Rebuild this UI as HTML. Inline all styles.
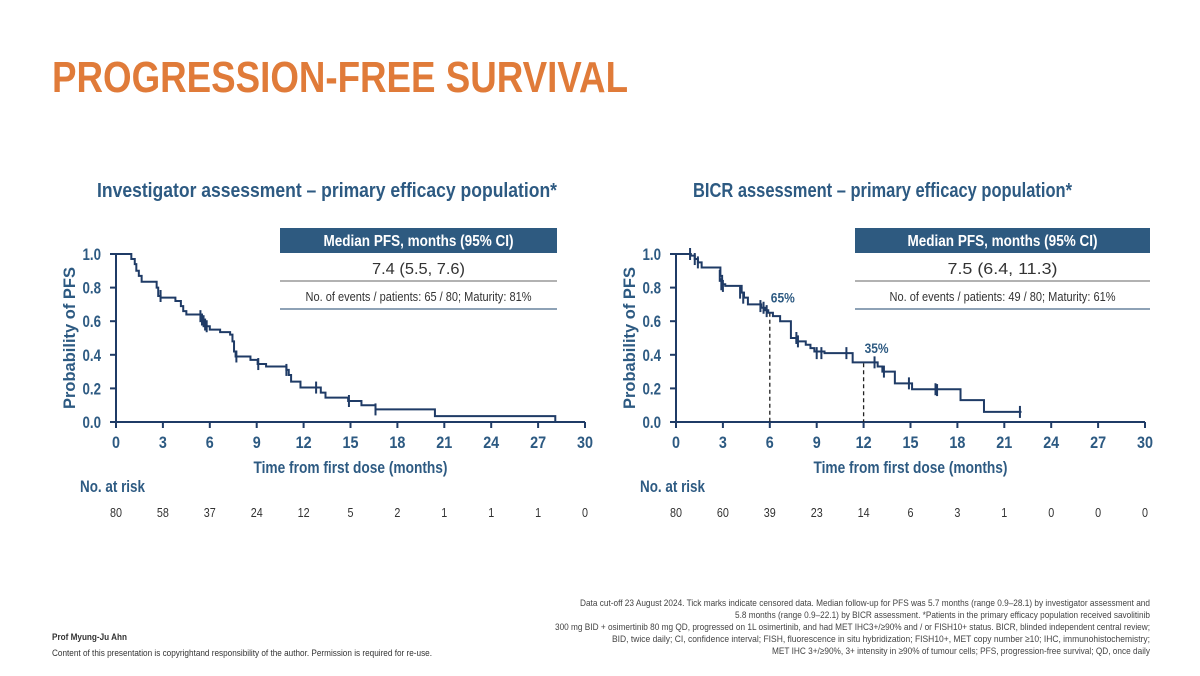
<!DOCTYPE html>
<html><head><meta charset="utf-8"><style>
html,body{margin:0;padding:0;background:#fff;}
svg{display:block;font-family:"Liberation Sans Narrow","Liberation Sans",sans-serif;}
</style></head><body>
<svg id="s" width="1200" height="676" viewBox="0 0 1200 676">
<text x="52" y="92" font-size="44" font-weight="bold" fill="#e07b39" textLength="576" lengthAdjust="spacingAndGlyphs">PROGRESSION-FREE SURVIVAL</text>
<text x="97" y="197" font-size="20" font-weight="bold" fill="#2d5a82" textLength="460" lengthAdjust="spacingAndGlyphs">Investigator assessment – primary efficacy population*</text>
<text x="693" y="197" font-size="20" font-weight="bold" fill="#2d5a82" textLength="379" lengthAdjust="spacingAndGlyphs">BICR assessment – primary efficacy population*</text>
<g id="left"></g>
<g id="right"></g>
<g font-size="9.5" fill="#444" text-anchor="end">
<text x="1150" y="606" textLength="570" lengthAdjust="spacingAndGlyphs">Data cut-off 23 August 2024. Tick marks indicate censored data. Median follow-up for PFS was 5.7 months (range 0.9–28.1) by investigator assessment and</text>
<text x="1150" y="618" textLength="415" lengthAdjust="spacingAndGlyphs">5.8 months (range 0.9–22.1) by BICR assessment. *Patients in the primary efficacy population received savolitinib</text>
<text x="1150" y="630" textLength="595" lengthAdjust="spacingAndGlyphs">300 mg BID + osimertinib 80 mg QD, progressed on 1L osimertinib, and had MET IHC3+/≥90% and / or FISH10+ status. BICR, blinded independent central review;</text>
<text x="1150" y="642" textLength="538" lengthAdjust="spacingAndGlyphs">BID, twice daily; CI, confidence interval; FISH, fluorescence in situ hybridization; FISH10+, MET copy number ≥10; IHC, immunohistochemistry;</text>
<text x="1150" y="654" textLength="378" lengthAdjust="spacingAndGlyphs">MET IHC 3+/≥90%, 3+ intensity in ≥90% of tumour cells; PFS, progression-free survival; QD, once daily</text>
</g>
<text x="52" y="640" font-size="9" font-weight="bold" fill="#333" textLength="75" lengthAdjust="spacingAndGlyphs">Prof Myung-Ju Ahn</text>
<text x="52" y="656" font-size="9" fill="#333" textLength="380" lengthAdjust="spacingAndGlyphs">Content of this presentation is copyrightand responsibility of the author. Permission is required for re-use.</text>
</svg>
<script>
const xTicks=[0,3,6,9,12,15,18,21,24,27,30];
const yTicks=["0.0","0.2","0.4","0.6","0.8","1.0"];
const leftTimes=[0,0.98,1.2,1.3,1.46,1.64,2.6,2.7,2.85,3.8,4.15,4.3,4.5,4.6,5.45,5.55,5.65,5.75,6.0,6.66,7.3,7.45,7.55,7.65,8.6,9.06,9.6,10.9,11.05,11.2,11.8,13.1,13.4,14.85,15.7,16.6,20.4,28.1];
const leftSurv=[1.0,0.97,0.94,0.9,0.87,0.835,0.8,0.75,0.74,0.72,0.69,0.66,0.64,0.64,0.62,0.6,0.58,0.57,0.55,0.535,0.52,0.48,0.42,0.39,0.37,0.345,0.33,0.31,0.28,0.24,0.205,0.175,0.145,0.125,0.1,0.075,0.035,0.0];
const leftCensT=[2.85,5.4,5.5,5.6,5.7,5.8,7.7,9.1,10.9,12.8,14.9,16.6];
const leftCensS=[0.75,0.63,0.61,0.6,0.58,0.57,0.39,0.345,0.31,0.205,0.125,0.075];
const leftRisk=[80,58,37,24,12,5,2,1,1,1,0];
const leftMedian="7.4 (5.5, 7.6)";
const leftEvents="No. of events / patients: 65 / 80; Maturity: 81%";
const rightTimes=[0,0.95,1.2,1.4,1.64,2.84,2.95,3.15,4.2,4.35,4.6,5.45,5.7,5.9,6.2,6.66,7.35,7.7,8.3,8.6,8.85,9.5,11.3,12.9,13.2,14.0,15.1,18.2,19.7];
const rightSurv=[1.0,0.99,0.97,0.95,0.92,0.87,0.82,0.81,0.77,0.74,0.7,0.68,0.665,0.65,0.63,0.6,0.5,0.48,0.46,0.44,0.42,0.41,0.355,0.33,0.3,0.23,0.195,0.13,0.06];
const rightEnd=22.1;
const rightCensT=[0.9,1.2,1.4,2.8,2.9,3.0,4.1,4.3,5.4,5.6,5.8,7.7,7.8,9.0,9.3,10.9,12.7,13.3,14.9,16.6,16.7,22.0];
const rightCensS=[1.0,0.97,0.95,0.87,0.82,0.81,0.77,0.74,0.69,0.68,0.66,0.5,0.48,0.41,0.41,0.41,0.355,0.3,0.23,0.195,0.19,0.06];
const rightRisk=[80,60,39,23,14,6,3,1,0,0,0];
const rightMedian="7.5 (6.4, 11.3)";
const rightEvents="No. of events / patients: 49 / 80; Maturity: 61%";
const landmarkT=[6,12];
const landmarkS=[0.65,0.35];
const landmarkLbl=["65%","35%"];

const NS="http://www.w3.org/2000/svg";
const BLUE="#2d5a82", LINE="#1f3b66";
function mk(p,tag,at,txt){const e=document.createElementNS(NS,tag);for(const k in at)e.setAttribute(k,at[k]);if(txt!==undefined)e.textContent=txt;p.appendChild(e);return e;}
function tl(s,d,p){let w=0;for(const c of s)w+=(c==='.')?p:d;return w;}

function chart(g,x0,tbl,times,surv,endT,cT,cS,risk,med,ev,lm){
  const W=469/30, y0=422, yTop=254;
  const X=t=>x0+t*W, Y=s=>y0-s*(y0-yTop);
  const cx=(tbl[0]+tbl[1])/2;
  let e=mk(g,'rect',{x:tbl[0],y:228,width:tbl[1]-tbl[0],height:25,fill:"#2e5a80"});
  
  
  e=mk(g,'text',{x:cx,y:246,'text-anchor':'middle','font-size':15.5,'font-weight':'bold',fill:'#fff',textLength:190,lengthAdjust:'spacingAndGlyphs'},"Median PFS, months (95% CI)");
  
  
  e=mk(g,'text',{x:cx,y:274,'text-anchor':'middle','font-size':15.5,fill:'#333',textLength:med.length>14?110:93,lengthAdjust:'spacingAndGlyphs'},med);
  
  
  mk(g,'line',{x1:tbl[0],x2:tbl[1],y1:281,y2:281,stroke:'#999','stroke-width':1.5});
  e=mk(g,'text',{x:cx,y:301,'text-anchor':'middle','font-size':12.5,fill:'#333',textLength:226,lengthAdjust:'spacingAndGlyphs'},ev);
  
  
  mk(g,'line',{x1:tbl[0],x2:tbl[1],y1:309,y2:309,stroke:'#4a6a8a','stroke-width':1.2});
  e=mk(g,'path',{d:`M${x0},${yTop}V${y0}H${X(30)}`,fill:'none',stroke:LINE,'stroke-width':2});
  
  
  yTicks.forEach((l,i)=>{const y=Y(+l);mk(g,'line',{x1:x0-6,x2:x0,y1:y,y2:y,stroke:LINE,'stroke-width':2});
    const t=mk(g,'text',{x:x0-15,y:y+6,'text-anchor':'end','font-size':16.5,'font-weight':'bold',fill:BLUE,textLength:tl(l,7.5,3.5),lengthAdjust:'spacingAndGlyphs'},l);
    
    });
  xTicks.forEach((v,i)=>{const x=X(v);mk(g,'line',{x1:x,x2:x,y1:y0,y2:y0+6,stroke:LINE,'stroke-width':2});
    const s=String(v);
    const t=mk(g,'text',{x:x,y:448,'text-anchor':'middle','font-size':16.5,'font-weight':'bold',fill:BLUE,textLength:tl(s,8,3),lengthAdjust:'spacingAndGlyphs'},s);
    
    
    const rs=String(risk[i]);
    const r=mk(g,'text',{x:x,y:517,'text-anchor':'middle','font-size':12.5,fill:'#333',textLength:tl(rs,6,3),lengthAdjust:'spacingAndGlyphs'},rs);
    
    });
  e=mk(g,'text',{x:X(15),y:473,'text-anchor':'middle','font-size':17,'font-weight':'bold',fill:BLUE,textLength:194,lengthAdjust:'spacingAndGlyphs'},"Time from first dose (months)");
  
  
  e=mk(g,'text',{x:0,y:0,'text-anchor':'middle','font-size':17,'font-weight':'bold',fill:BLUE,textLength:142,lengthAdjust:'spacingAndGlyphs',transform:`translate(${x0-41},${(y0+yTop)/2}) rotate(-90)`},"Probability of PFS");
  
  
  e=mk(g,'text',{x:x0-36,y:492,'font-size':17,'font-weight':'bold',fill:BLUE,textLength:65,lengthAdjust:'spacingAndGlyphs'},"No. at risk");
  
  
  if(lm){lm[0].forEach((t,i)=>{mk(g,'line',{x1:X(t),x2:X(t),y1:Y(lm[1][i]),y2:y0,stroke:'#222','stroke-width':1.3,'stroke-dasharray':'4,3'});
    const l=mk(g,'text',{x:X(t)+1,y:Y(lm[1][i]+0.06),'font-size':14,'font-weight':'bold',fill:BLUE,textLength:24,lengthAdjust:'spacingAndGlyphs'},lm[2][i]);
    
    });}
  let d=`M${X(times[0])},${Y(surv[0])}`;
  for(let i=1;i<times.length;i++){d+=`H${X(times[i])}V${Y(surv[i])}`;}
  d+=`H${X(endT)}`;
  e=mk(g,'path',{d:d,fill:'none',stroke:LINE,'stroke-width':2});
  
  
  cT.forEach((t,i)=>{const c=mk(g,'line',{x1:X(t),x2:X(t),y1:Y(cS[i])-6,y2:Y(cS[i])+6,stroke:LINE,'stroke-width':2});
    
    });
}
chart(document.getElementById('left'),116,[280,557],leftTimes,leftSurv,28.1,leftCensT,leftCensS,leftRisk,leftMedian,leftEvents,null);
chart(document.getElementById('right'),676,[855,1150],rightTimes,rightSurv,rightEnd,rightCensT,rightCensS,rightRisk,rightMedian,rightEvents,[landmarkT,landmarkS,landmarkLbl]);
</script>
</body></html>
